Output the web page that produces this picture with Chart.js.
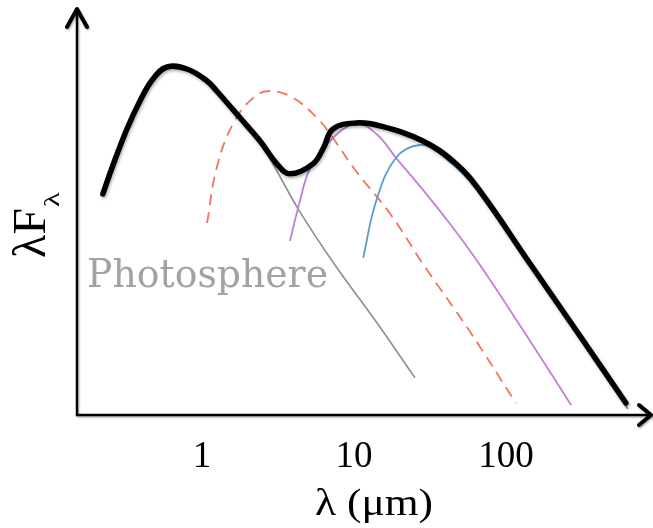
<!DOCTYPE html>
<html>
<head>
<meta charset="utf-8">
<script src="https://cdn.jsdelivr.net/npm/chart.js@4"></script>
<style>
  html, body { margin: 0; padding: 0; background: #fff; }
  canvas { display: block; }
</style>
</head>
<body>
<canvas id="sed" width="653" height="528"></canvas>
<script>
// ── Data: wavelength in µm, λFλ in arbitrary units (0–100) ──
const sedLam   = [0.223, 0.26, 0.321, 0.391, 0.476, 0.589, 0.797, 1.08, 1.25, 1.78, 2.41, 3.11, 3.79, 5.37, 6.3, 7.27, 10.3, 14.8, 28.4, 46.9, 67.4, 144, 300, 615];
const sedFlux  = [55.3, 62.5, 71.5, 78.5, 84, 87, 86.5, 83.5, 81, 74.3, 68.5, 62.8, 60.3, 62.8, 66.8, 71.5, 73, 72.3, 68.5, 62.8, 56, 37.8, 20.3, 3];

const photLam  = [2.41, 3.11, 4.41, 7.5, 14, 25.2];
const photFlux = [68.5, 61, 50.8, 37.5, 23.3, 9.3];

const hotLam   = [1.08, 1.25, 1.6, 2.17, 2.8, 3.97, 5.71, 6.95, 10.3, 17.3, 28.4, 58, 116];
const hotFlux  = [48, 61.8, 72.8, 79.3, 81, 79.3, 74.3, 70.3, 61, 50.3, 37.8, 20.8, 3];

const warmLam  = [3.79, 4.41, 5.13, 6.95, 10.3, 14, 18.9, 28.4, 42.8, 67.4, 129, 268];
const warmFlux = [43.5, 53.5, 61.5, 68.5, 72.8, 70.3, 64.3, 56.3, 47.8, 37.5, 21.3, 2.5];

const coldLam  = [11.5, 14, 18.9, 27.2, 36.8, 67.4, 144, 634];
const coldFlux = [39.3, 53.5, 64.3, 67.5, 65.3, 55.5, 37.3, 1.5];

const tickVals = [1, 10, 100];
const tickText = ['1', '10', '100'];
const xTitle   = 'λ (μm)';
const yTitle   = 'λF';
const ySub     = 'λ';
const photoLbl = 'Photosphere';

const pts = (xs, ys) => xs.map((x, i) => ({ x, y: ys[i] }));
const SERIF = '"Liberation Serif", "Times New Roman", serif';

// squeeze/stretch text horizontally to a given width
function fitText(ctx, text, x, y, width, align) {
  const w = ctx.measureText(text).width;
  ctx.save();
  ctx.translate(x, y);
  ctx.scale(width / w, 1);
  ctx.textAlign = align;
  ctx.fillText(text, 0, 0);
  ctx.restore();
}

// ── Shadow under the thick SED curve ──
const shadowPlugin = {
  id: 'shadow',
  beforeDatasetDraw(chart, args) {
    if (args.index !== 0) return;
    const ctx = chart.ctx;
    ctx.save();
    ctx.shadowColor = 'rgba(0,0,0,0.3)';
    ctx.shadowBlur = 3;
    ctx.shadowOffsetX = 1;
    ctx.shadowOffsetY = 2;
  },
  afterDatasetDraw(chart, args) {
    if (args.index === 0) chart.ctx.restore();
  }
};

// ── Arrow axes + labels ──
const axesPlugin = {
  id: 'arrowAxes',
  beforeDatasetsDraw(chart) {
    const { ctx, chartArea: a } = chart;
    ctx.save();
    ctx.shadowColor = 'rgba(0,0,0,0.3)';
    ctx.shadowBlur = 2;
    ctx.shadowOffsetX = 1;
    ctx.shadowOffsetY = 1.5;
    ctx.strokeStyle = '#000';
    ctx.lineWidth = 2.5;
    ctx.beginPath();
    ctx.moveTo(a.left, a.top - 5);
    ctx.lineTo(a.left, a.bottom);
    ctx.lineTo(a.right - 1, a.bottom);
    ctx.stroke();
    ctx.lineWidth = 4;
    ctx.lineCap = 'round';
    ctx.lineJoin = 'round';
    ctx.beginPath();
    ctx.moveTo(a.left - 10, a.top + 12);
    ctx.lineTo(a.left, a.top - 6);
    ctx.lineTo(a.left + 10, a.top + 12);
    ctx.moveTo(a.right - 14, a.bottom - 10);
    ctx.lineTo(a.right - 2, a.bottom);
    ctx.lineTo(a.right - 14, a.bottom + 10);
    ctx.stroke();
    ctx.restore();
  },
  afterDraw(chart) {
    const { ctx } = chart;
    const xs = chart.scales.x;
    ctx.save();
    ctx.fillStyle = '#000';
    ctx.textBaseline = 'alphabetic';

    // tick labels
    ctx.font = '37px ' + SERIF;
    ctx.textAlign = 'center';
    tickVals.forEach((v, i) => ctx.fillText(tickText[i], xs.getPixelForValue(v), 467));

    // x title
    fitText(ctx, xTitle, 374, 515, 118, 'center');

    // y title, rotated
    ctx.translate(45, 258);
    ctx.rotate(-Math.PI / 2);
    ctx.font = '46px ' + SERIF;
    fitText(ctx, yTitle, 0, 0, 50, 'left');
    ctx.font = '22px ' + SERIF;
    fitText(ctx, ySub, 51, 14, 15, 'left');
    ctx.restore();

    // photosphere label
    ctx.save();
    ctx.fillStyle = '#a2a2a2';
    ctx.font = '40px "DejaVu Serif", serif';
    fitText(ctx, photoLbl, 87, 287, 241, 'left');
    ctx.restore();
  }
};

const lineStyle = { pointRadius: 0, fill: false, tension: 0.4 };

new Chart(document.getElementById('sed'), {
  type: 'line',
  data: {
    datasets: [
      { ...lineStyle, data: pts(sedLam, sedFlux),   borderColor: '#000000', borderWidth: 5.5, borderCapStyle: 'round' },
      { ...lineStyle, data: pts(coldLam, coldFlux), borderColor: '#5b9bd5', borderWidth: 1.8 },
      { ...lineStyle, data: pts(warmLam, warmFlux), borderColor: '#c47fd5', borderWidth: 1.8 },
      { ...lineStyle, data: pts(hotLam, hotFlux),   borderColor: '#f5735d', borderWidth: 1.8, borderDash: [11, 7] },
      { ...lineStyle, data: pts(photLam, photFlux), borderColor: '#8e8e8e', borderWidth: 1.6 }
    ]
  },
  options: {
    responsive: false,
    animation: false,
    devicePixelRatio: 1,
    layout: { padding: { left: 77, right: 0, top: 15, bottom: 113 } },
    plugins: { legend: { display: false }, tooltip: { enabled: false } },
    scales: {
      x: { type: 'logarithmic', min: Math.pow(10, -0.822), max: Math.pow(10, 2.967), display: false },
      y: { type: 'linear', min: 0, max: 100, display: false }
    }
  },
  plugins: [shadowPlugin, axesPlugin]
});
</script>
</body>
</html>
